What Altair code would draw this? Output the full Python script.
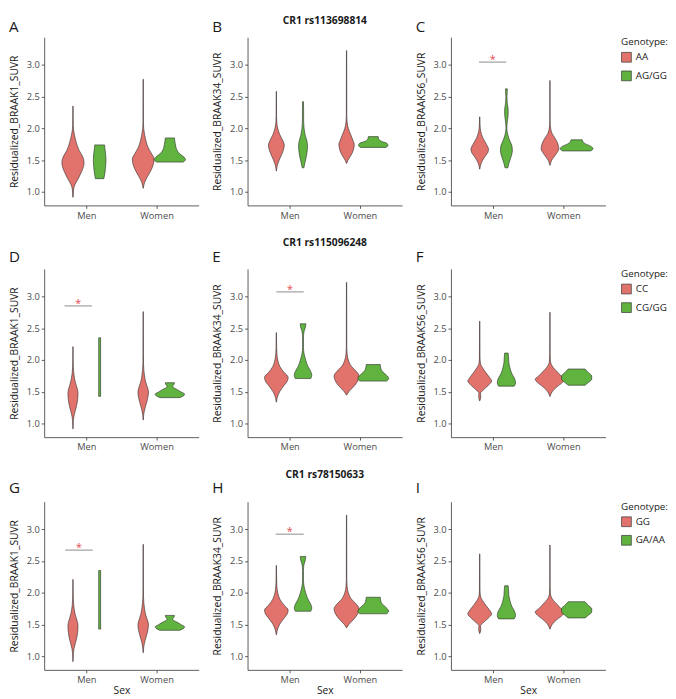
import altair as alt
import pandas as pd

# ---------------- text ----------------
ROW_TITLES = ["CR1 rs113698814", "CR1 rs115096248", "CR1 rs78150633"]
GENOTYPES = [["AA", "AG/GG"], ["CC", "CG/GG"], ["GG", "GA/AA"]]
Y_TITLES = ["Residualized_BRAAK1_SUVR", "Residualized_BRAAK34_SUVR", "Residualized_BRAAK56_SUVR"]
LETTERS = [["A", "B", "C"], ["D", "E", "F"], ["G", "H", "I"]]
SEXES = ["Men", "Women"]

# ---------------- violin profiles: [value, half-width in x units] ----------------
A_men_1 = [[0.92, .003], [1.05, .01], [1.12, .03], [1.2, .07], [1.3, .115], [1.4, .15], [1.47, .158],
           [1.55, .14], [1.65, .09], [1.75, .055], [1.85, .03], [1.95, .012], [2.05, .004], [2.35, .002]]
A_men_2 = [[1.21, .06], [1.3, .075], [1.4, .085], [1.5, .09], [1.6, .085], [1.68, .075], [1.74, .07]]
A_women_1 = [[1.06, .002], [1.15, .02], [1.25, .065], [1.35, .115], [1.45, .148], [1.52, .155], [1.6, .12],
             [1.7, .07], [1.8, .04], [1.9, .02], [2.0, .007], [2.1, .003], [2.77, .002]]
A_women_2 = [[1.47, .19], [1.51, .222], [1.55, .2], [1.6, .14], [1.66, .1], [1.74, .08], [1.8, .07], [1.85, .065]]

B_men_1 = [[1.33, .002], [1.4, .01], [1.5, .04], [1.6, .08], [1.68, .105], [1.74, .113], [1.8, .095],
           [1.9, .05], [2.0, .02], [2.1, .006], [2.2, .003], [2.58, .002]]
B_men_2 = [[1.38, .012], [1.45, .025], [1.55, .045], [1.65, .06], [1.72, .064], [1.8, .055], [1.9, .03],
           [2.0, .015], [2.1, .009], [2.3, .008], [2.42, .006]]
B_women_1 = [[1.45, .002], [1.5, .02], [1.6, .075], [1.7, .105], [1.75, .11], [1.8, .095], [1.9, .06],
             [2.0, .025], [2.1, .008], [2.2, .003], [3.22, .002]]
B_women_2 = [[1.70, .18], [1.73, .21], [1.76, .2], [1.8, .11], [1.84, .075], [1.87, .07]]

C_men_1 = [[1.36, .002], [1.45, .02], [1.55, .07], [1.62, .115], [1.67, .125], [1.75, .095], [1.85, .045],
           [1.95, .015], [2.05, .005], [2.18, .002]]
C_men_2 = [[1.38, .02], [1.45, .035], [1.55, .065], [1.65, .085], [1.72, .08], [1.8, .05], [1.9, .02],
           [2.0, .006], [2.1, .012], [2.2, .024], [2.28, .026], [2.4, .012], [2.5, .008], [2.58, .012], [2.62, .012]]
C_women_1 = [[1.42, .002], [1.5, .025], [1.6, .09], [1.68, .125], [1.75, .115], [1.85, .07], [1.92, .03],
             [2.0, .01], [2.1, .003], [2.75, .002]]
C_women_2 = [[1.645, .2], [1.68, .235], [1.72, .2], [1.76, .12], [1.8, .085], [1.82, .08]]

D_men_1 = [[0.92, .002], [1.05, .006], [1.12, .014], [1.2, .032], [1.3, .055], [1.4, .068], [1.47, .072],
           [1.55, .062], [1.62, .042], [1.7, .024], [1.8, .011], [1.9, .005], [2.0, .003], [2.21, .002]]
D_men_2 = [[1.43, .014], [2.35, .014]]
D_women_1 = [[1.06, .002], [1.15, .008], [1.25, .027], [1.35, .053], [1.45, .072], [1.5, .075], [1.58, .058],
             [1.65, .037], [1.75, .019], [1.85, .009], [1.95, .004], [2.1, .003], [2.76, .002]]
D_women_2 = [[1.41, .14], [1.44, .195], [1.465, .21], [1.5, .16], [1.54, .1], [1.58, .04], [1.6, .045],
             [1.62, .06], [1.645, .065]]

E_men_1 = [[1.34, .002], [1.4, .01], [1.5, .045], [1.6, .11], [1.68, .16], [1.73, .168], [1.8, .115],
           [1.9, .05], [2.0, .02], [2.1, .008], [2.2, .004], [2.43, .002]]
E_men_2 = [[1.71, .11], [1.76, .125], [1.82, .11], [1.9, .07], [2.0, .038], [2.1, .015], [2.2, .006],
           [2.35, .006], [2.45, .015], [2.52, .035], [2.57, .04]]
E_women_1 = [[1.45, .002], [1.5, .03], [1.6, .115], [1.7, .17], [1.75, .178], [1.82, .14], [1.9, .07],
             [2.0, .025], [2.1, .008], [2.2, .003], [3.22, .002]]
E_women_2 = [[1.67, .19], [1.71, .22], [1.75, .2], [1.8, .15], [1.86, .11], [1.93, .1]]

F_men_1 = [[1.36, .002], [1.4, .012], [1.44, .015], [1.48, .01], [1.52, .04], [1.6, .12], [1.67, .17],
           [1.72, .145], [1.8, .09], [1.88, .04], [1.95, .01], [2.05, .004], [2.61, .002]]
F_men_2 = [[1.59, .11], [1.64, .13], [1.7, .12], [1.78, .08], [1.88, .05], [1.96, .035], [2.05, .03], [2.11, .025]]
F_women_1 = [[1.43, .002], [1.5, .03], [1.58, .1], [1.65, .18], [1.7, .21], [1.75, .16], [1.82, .1],
             [1.88, .05], [1.93, .02], [2.0, .006], [2.1, .003], [2.75, .002]]
F_women_2 = [[1.605, .12], [1.65, .17], [1.7, .215], [1.75, .215], [1.8, .17], [1.86, .12]]

# third row looks the same as the second one
G_men_1, G_men_2, G_women_1, G_women_2 = D_men_1, D_men_2, D_women_1, D_women_2
H_men_1, H_men_2, H_women_1, H_women_2 = E_men_1, E_men_2, E_women_1, E_women_2
I_men_1, I_men_2, I_women_1, I_women_2 = F_men_1, F_men_2, F_women_1, F_women_2

PROFILES = {
    "A": [A_men_1, A_men_2, A_women_1, A_women_2],
    "B": [B_men_1, B_men_2, B_women_1, B_women_2],
    "C": [C_men_1, C_men_2, C_women_1, C_women_2],
    "D": [D_men_1, D_men_2, D_women_1, D_women_2],
    "E": [E_men_1, E_men_2, E_women_1, E_women_2],
    "F": [F_men_1, F_men_2, F_women_1, F_women_2],
    "G": [G_men_1, G_men_2, G_women_1, G_women_2],
    "H": [H_men_1, H_men_2, H_women_1, H_women_2],
    "I": [I_men_1, I_men_2, I_women_1, I_women_2],
}

# significance brackets
SIG_PANELS = ["C", "D", "E", "G", "H"]
SIG_LEFT = [0.80, 0.69, 0.81, 0.70, 0.80]
SIG_RIGHT = [1.19, 1.08, 1.20, 1.09, 1.20]
SIG_LEVEL = [3.04, 2.85, 3.07, 2.67, 2.92]

# ---------------- styling ----------------
RED = "#E2736C"
GREEN = "#5FB33E"
STAR_RED = "#E8474E"
FONT = "Open Sans"
DODGE = 0.19
PW, PH = 158, 172
TITLE_Y = [-13.5, -23, -24]
LETTER_Y = [-5, -7, -9]

rows = []
for r in range(3):
    for c in range(3):
        letter = LETTERS[r][c]
        for idx, prof in enumerate(PROFILES[letter]):
            sex = idx // 2
            g = idx % 2
            center = (sex + 1) + (DODGE if g else -DODGE)
            for v, w in prof:
                rows.append({"panel": letter, "vid": f"{letter}{idx}", "sex": SEXES[sex],
                             "genotype": GENOTYPES[r][g], "value": v,
                             "left": center - w, "right": center + w})
viol = pd.DataFrame(rows)
sig = pd.DataFrame({"panel": SIG_PANELS, "left": SIG_LEFT, "right": SIG_RIGHT, "value": SIG_LEVEL})

xs = alt.Scale(domain=[0.4, 2.6], nice=False, zero=False)
ys = alt.Scale(domain=[0.79, 3.43], nice=False, zero=False)


def x_axis(bottom):
    return alt.Axis(values=[1, 2], labelExpr="datum.value == 1 ? 'Men' : 'Women'",
                    title="Sex" if bottom else None, grid=False)


def y_axis(c):
    return alt.Axis(values=[1.0, 1.5, 2.0, 2.5, 3.0], format=".1f", title=Y_TITLES[c], grid=False)


def panel(r, c):
    letter = LETTERS[r][c]
    xa = x_axis(r == 2)
    ya = y_axis(c)
    area = alt.Chart(viol[viol.panel == letter]).mark_area(
        orient="horizontal", interpolate="monotone", stroke="#2b2b2b", strokeWidth=0.6,
        opacity=1, strokeJoin="round"
    ).encode(
        x=alt.X("left:Q", scale=xs, axis=xa, stack=False),
        x2="right:Q",
        y=alt.Y("value:Q", scale=ys, axis=ya),
        color=alt.Color("genotype:N", scale=alt.Scale(domain=GENOTYPES[r], range=[RED, GREEN]),
                        legend=alt.Legend(title="Genotype:")),
        detail="vid:N",
    )
    layers = [area]
    s = sig[sig.panel == letter]
    if len(s):
        rule = alt.Chart(s).mark_rule(color="#8a8a8a", strokeWidth=1).encode(
            x=alt.X("left:Q", scale=xs, axis=xa),
            x2="right:Q",
            y=alt.Y("value:Q", scale=ys, axis=ya),
        )
        star = alt.Chart(s).transform_calculate(mid="(datum.left + datum.right) / 2").mark_text(
            text="*", color=STAR_RED, fontSize=11, font=FONT, baseline="alphabetic", dy=1
        ).encode(
            x=alt.X("mid:Q", scale=xs, axis=xa),
            y=alt.Y("value:Q", scale=ys, axis=ya),
        )
        layers += [rule, star]
    lab = alt.Chart(pd.DataFrame({"t": [letter]})).mark_text(
        align="left", baseline="alphabetic", fontSize=15.5, font=FONT, color="#1a1a1a"
    ).encode(text="t:N", x=alt.value(-36), y=alt.value(LETTER_Y[r]))
    layers.append(lab)
    if c == 1:
        ttl = alt.Chart(pd.DataFrame({"t": [ROW_TITLES[r]]})).mark_text(
            align="center", baseline="alphabetic", fontSize=10.5, fontWeight="bold", font=FONT, color="#1a1a1a"
        ).encode(text="t:N", x=alt.value(PW / 2), y=alt.value(TITLE_Y[r]))
        layers.append(ttl)
    return alt.layer(*layers).properties(width=PW, height=PH)


row_charts = [alt.hconcat(*[panel(r, c) for c in range(3)], spacing=14) for r in range(3)]

chart = alt.vconcat(*row_charts, spacing=19).resolve_scale(color="independent").properties(
    padding={"left": 1, "top": 0, "right": 0, "bottom": 0}, background="white"
).configure_view(strokeWidth=0).configure_axis(
    domainColor="#333333", domainWidth=0.8, tickColor="#333333", tickWidth=0.8, tickSize=3,
    labelColor="#4d4d4d", labelFont=FONT, labelFontSize=9.5, labelPadding=2,
    titleFont=FONT, titleFontSize=10.5, titleFontWeight="normal", titleColor="#1a1a1a",
    titlePadding=7, grid=False
).configure_axisX(titlePadding=2).configure_legend(
    titleFont=FONT, titleFontSize=10, titleFontWeight="normal", titleColor="#1a1a1a",
    labelFont=FONT, labelFontSize=10, labelColor="#1a1a1a", symbolType="square", symbolSize=100,
    symbolStrokeColor="#333333", symbolStrokeWidth=0.7, symbolOpacity=1, rowPadding=6,
    titlePadding=5, labelOffset=4, offset=16
)

chart.save("out.html", embed_options={"renderer": "svg", "actions": False})
